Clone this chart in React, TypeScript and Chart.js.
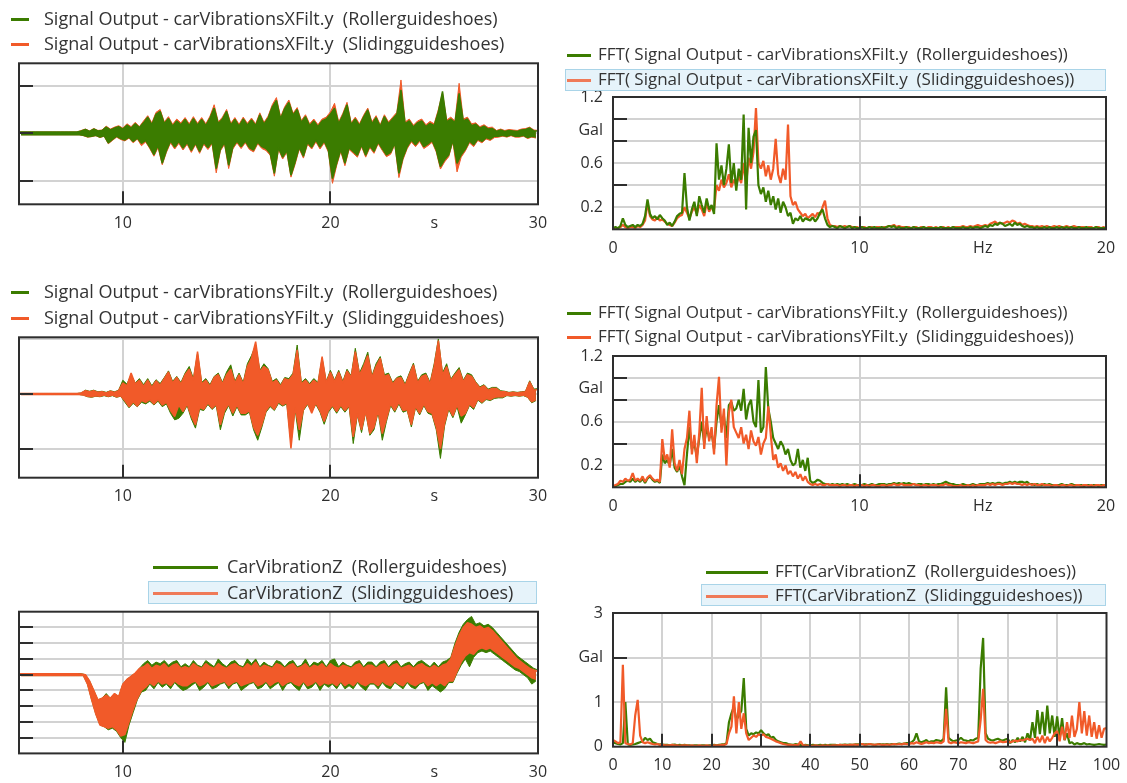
import { useEffect, useRef } from "react";
import { Chart, registerables } from "chart.js";

Chart.register(...registerables);

const PAGE_W = 1127;
const PAGE_H = 783;

const GREEN = "#3b7c00";
const ORANGE = "#f15a29";
const ORANGE_SELECTED = "#ef7a58";
const GRID = "#d2d2d2";
const INK = "#2e2e2e";
const FONT = "'Open Sans', 'Noto Sans', sans-serif";

// Sampling of the acceleration signals (seconds) and of the spectra (Hz)
const TIME_START = 5;
const TIME_STEP = 0.1;
const FFT_XY_STEP = 0.1;
const FFT_Z_STEP = 0.5;

// Axis labels
const timeTickValues = [10, 20, 25, 30];
const timeTickLabels = ["10", "20", "s", "30"];
const fftXYTickValues = [0, 10, 15, 20];
const fftXYTickLabels = ["0", "10", "Hz", "20"];
const fftXYGalValues = [1.2, 0.9, 0.6, 0.2];
const fftXYGalLabels = ["1.2", "Gal", "0.6", "0.2"];
const fftZTickValues = [0, 10, 20, 30, 40, 50, 60, 70, 80, 90, 100];
const fftZTickLabels = ["0", "10", "20", "30", "40", "50", "60", "70", "80", "Hz", "100"];
const fftZGalValues = [3, 2, 1, 0];
const fftZGalLabels = ["3", "Gal", "1", "0"];

// Legend texts
const xRollerName = "Signal Output - carVibrationsXFilt.y  (Rollerguideshoes)";
const xSlidingName = "Signal Output - carVibrationsXFilt.y  (Slidingguideshoes)";
const yRollerName = "Signal Output - carVibrationsYFilt.y  (Rollerguideshoes)";
const ySlidingName = "Signal Output - carVibrationsYFilt.y  (Slidingguideshoes)";
const zRollerName = "CarVibrationZ  (Rollerguideshoes)";
const zSlidingName = "CarVibrationZ  (Slidingguideshoes)";

// carVibrationsXFilt.y: swing extremes every 0.1 s from 5 s to 30 s
// (even samples are upper peaks, odd samples are lower peaks)
const carXRoller = [
  0.3,-0.3,0.3,-0.3,0.3,-0.3,0.3,-0.3,0.3,-0.3,
  0.3,-0.3,0.3,-0.3,0.3,-0.3,0.3,-0.3,0.3,-0.3,
  0.3,-0.3,0.3,-0.3,0.3,-0.3,0.3,-0.3,0.3,-0.3,
  0.5,-0.4,0.8,-0.7,0.4,-0.6,0.9,-0.4,0.5,-0.8,
  0.6,-0.5,1.3,-2.0,0.7,-1.3,1.1,-0.6,1.4,-1.1,
  0.9,-1.4,1.7,-0.8,1.1,-1.7,2.0,-1.0,1.2,-2.1,
  2.2,-1.5,3.4,-2.9,1.8,-4.5,4.0,-2.5,4.6,-6.3,
  2.0,-3.6,3.1,-1.6,1.5,-2.9,2.6,-1.7,1.8,-3.1,
  2.9,-1.9,1.6,-3.6,3.1,-2.0,1.7,-3.8,2.9,-1.9,
  1.6,-3.0,3.2,-1.8,5.3,-7.4,2.0,-3.3,3.0,-1.9,
  4.6,-6.7,1.7,-2.9,2.9,-1.6,1.5,-2.8,3.0,-1.6,
  1.7,-3.0,2.8,-3.5,1.6,-1.8,3.9,-2.8,1.9,-3.2,
  3.2,-4.2,5.5,-8.4,6.9,-3.0,3.0,-5.0,5.2,-3.6,
  6.5,-8.8,3.8,-6.0,5.0,-2.9,2.3,-4.8,3.5,-1.9,
  1.6,-2.9,2.6,-1.4,1.4,-2.9,2.6,-1.6,3.0,-3.5,
  4.0,-9.5,5.3,-6.3,2.0,-3.4,3.8,-6.3,6.0,-3.0,
  1.8,-3.8,3.0,-4.6,1.6,-2.4,3.4,-4.6,4.9,-2.6,
  2.0,-3.8,3.3,-1.8,1.4,-3.2,3.5,-4.5,2.0,-4.0,
  3.0,-2.0,4.0,-8.4,9.1,-5.0,2.0,-2.8,2.6,-1.4,
  1.3,-2.4,2.2,-1.3,2.6,-2.8,1.4,-2.2,2.1,-1.5,
  1.6,-3.5,4.5,-7.0,8.8,-5.5,2.4,-4.5,3.0,-1.4,
  2.2,-6.3,8.4,-4.5,2.6,-3.3,3.0,-1.6,1.6,-2.4,
  1.9,-1.2,1.1,-1.7,1.5,-0.9,0.9,-1.2,1.0,-0.6,
  0.4,-0.6,0.7,-0.4,0.4,-0.6,0.6,-0.3,0.5,-0.6,
  0.4,-0.6,0.7,-0.4,0.8,-0.9,1.1,-0.6,0.5,-0.8,
  0.5,
];
const carXSliding = [
  0.3,-0.3,0.3,-0.3,0.3,-0.3,0.3,-0.3,0.3,-0.3,
  0.3,-0.3,0.3,-0.3,0.3,-0.3,0.3,-0.3,0.3,-0.3,
  0.3,-0.3,0.3,-0.3,0.3,-0.3,0.3,-0.3,0.3,-0.3,
  0.6,-0.5,0.9,-0.8,0.5,-0.7,1.0,-0.5,0.6,-0.9,
  0.7,-0.6,1.5,-2.2,0.9,-1.5,1.3,-0.8,1.6,-1.3,
  1.1,-1.6,2.0,-1.0,1.4,-2.0,2.3,-1.2,1.4,-2.6,
  2.6,-1.8,3.7,-3.2,2.2,-4.8,4.4,-3.0,5.0,-6.6,
  2.4,-4.0,3.5,-2.0,1.9,-3.3,3.0,-2.1,2.2,-3.5,
  3.3,-2.3,2.0,-4.0,3.5,-2.4,2.1,-4.2,3.3,-2.3,
  2.0,-3.4,3.6,-2.2,6.0,-8.3,2.4,-3.7,3.4,-2.3,
  5.0,-7.4,2.1,-3.3,3.3,-2.0,1.9,-3.2,3.4,-2.0,
  2.1,-3.4,3.2,-3.9,2.0,-2.2,4.3,-3.2,2.3,-3.6,
  3.6,-4.6,6.0,-9.0,7.5,-3.4,3.4,-5.4,5.6,-4.0,
  7.0,-9.2,4.2,-6.5,5.4,-3.3,2.7,-5.2,3.9,-2.3,
  2.0,-3.3,3.0,-1.8,1.8,-3.3,3.0,-2.0,3.4,-3.9,
  4.5,-10.5,6.3,-6.8,2.4,-3.8,4.2,-6.8,6.5,-3.4,
  2.2,-4.2,3.4,-5.0,2.0,-2.8,3.8,-5.0,5.3,-3.0,
  2.4,-4.2,3.7,-2.2,1.8,-3.6,3.9,-4.9,2.4,-4.4,
  3.4,-2.4,4.4,-9.3,11.2,-5.5,2.4,-3.2,3.0,-1.8,
  1.7,-2.8,2.6,-1.7,3.0,-3.2,1.8,-2.6,2.5,-1.9,
  2.0,-3.9,5.0,-7.5,8.5,-6.0,2.8,-4.9,3.4,-1.8,
  2.6,-8.1,10.5,-5.0,3.0,-3.7,3.4,-2.0,2.0,-2.8,
  2.2,-1.5,1.4,-2.0,1.8,-1.2,1.2,-1.5,1.3,-0.9,
  0.6,-0.8,0.9,-0.6,0.6,-0.8,0.8,-0.5,0.7,-0.8,
  0.6,-0.8,0.9,-0.6,1.0,-1.1,1.3,-0.8,0.7,-1.0,
  0.6,
];

// carVibrationsYFilt.y
const carYRoller = [
  0.1,-0.1,0.1,-0.1,0.1,-0.1,0.1,-0.1,0.1,-0.1,
  0.1,-0.1,0.1,-0.1,0.1,-0.1,0.1,-0.1,0.1,-0.1,
  0.1,-0.1,0.1,-0.1,0.1,-0.1,0.1,-0.1,0.1,-0.1,
  0.2,-0.2,0.7,-0.5,0.5,-0.6,0.7,-0.4,0.4,-0.5,
  0.5,-0.3,0.3,-0.5,0.6,-0.3,0.4,-0.6,0.7,-0.4,
  2.5,-1.5,1.8,-2.5,3.5,-1.7,2.0,-2.3,2.8,-1.5,
  1.7,-1.8,2.8,-1.3,1.5,-2.0,2.6,-1.3,1.9,-2.3,
  3.0,-1.8,4.2,-3.5,2.3,-4.7,3.2,-4.4,2.1,-3.5,
  3.8,-2.1,5.0,-4.5,2.8,-6.2,7.4,-2.8,2.1,-3.0,
  2.8,-1.9,1.7,-2.8,3.2,-2.1,3.8,-6.5,2.1,-3.5,
  4.0,-2.1,5.3,-4.0,2.3,-2.3,3.8,-3.8,2.1,-3.8,
  5.5,-3.3,7.0,-6.5,8.9,-8.4,4.3,-6.0,5.5,-3.3,
  4.6,-2.3,2.3,-3.0,2.8,-1.7,1.7,-2.2,3.0,-1.8,
  2.8,-8.9,3.8,-2.7,8.9,-8.4,2.1,-3.0,2.8,-1.9,
  1.9,-3.2,2.8,-1.9,2.1,-3.3,6.5,-5.5,2.3,-3.3,
  4.3,-2.3,2.5,-3.5,4.3,-2.3,2.3,-3.3,4.5,-2.3,
  3.3,-9.0,8.3,-3.8,3.8,-7.0,5.5,-3.3,7.6,-7.5,
  3.3,-6.5,5.5,-3.3,6.8,-8.4,3.5,-5.0,3.8,-2.1,
  2.1,-3.3,3.0,-1.8,3.3,-3.3,1.8,-3.0,3.8,-6.0,
  5.6,-2.5,2.3,-3.8,3.5,-2.1,3.8,-3.5,2.1,-3.8,
  5.5,-6.5,10.0,-11.7,3.8,-5.8,5.5,-2.8,2.7,-4.3,
  3.8,-2.3,4.8,-5.3,2.5,-3.8,3.8,-2.1,3.5,-2.8,
  2.2,-1.1,1.3,-1.7,1.7,-1.0,0.9,-1.2,1.2,-0.8,
  1.2,-0.7,0.6,-0.7,0.5,-0.3,0.3,-0.4,0.4,-0.3,
  0.3,-0.4,0.4,-0.3,0.5,-0.6,2.4,-1.6,0.9,-1.2,
  1.0,
];
const carYSliding = [
  0.1,-0.1,0.1,-0.1,0.1,-0.1,0.1,-0.1,0.1,-0.1,
  0.1,-0.1,0.1,-0.1,0.1,-0.1,0.1,-0.1,0.1,-0.1,
  0.1,-0.1,0.1,-0.1,0.1,-0.1,0.1,-0.1,0.1,-0.1,
  0.2,-0.2,0.6,-0.4,0.4,-0.5,0.6,-0.3,0.3,-0.4,
  0.4,-0.2,0.2,-0.4,0.5,-0.2,0.3,-0.5,0.6,-0.3,
  2.0,-1.2,1.5,-2.3,3.8,-1.4,1.8,-2.2,2.5,-1.2,
  1.4,-1.5,2.5,-1.0,1.2,-1.8,2.4,-1.0,1.6,-2.0,
  2.8,-1.5,4.0,-3.0,2.0,-4.1,3.0,-2.0,1.8,-3.2,
  3.5,-1.8,4.5,-4.0,2.5,-5.6,7.7,-2.4,1.8,-2.8,
  2.5,-1.6,1.4,-2.6,3.0,-1.8,3.5,-5.6,1.8,-3.0,
  3.5,-1.8,4.5,-3.5,2.0,-2.0,3.5,-3.5,1.8,-3.5,
  5.0,-3.0,6.5,-6.0,9.5,-7.5,4.0,-5.5,5.0,-3.0,
  4.4,-2.0,2.0,-2.8,2.5,-1.4,1.4,-2.0,2.8,-1.5,
  2.5,-9.9,3.5,-2.4,8.0,-6.5,1.8,-2.8,2.5,-1.6,
  1.6,-3.5,2.5,-1.6,1.8,-3.0,6.8,-5.0,2.0,-3.0,
  4.0,-2.0,2.2,-3.2,4.0,-2.0,2.0,-3.0,4.2,-2.0,
  3.0,-7.8,7.7,-3.5,3.5,-6.5,5.0,-3.0,7.0,-7.2,
  3.0,-6.0,5.0,-3.0,6.5,-7.2,3.2,-4.5,3.5,-1.8,
  1.8,-3.0,2.8,-1.5,3.0,-3.0,1.5,-2.8,3.5,-5.6,
  5.3,-2.2,2.0,-3.5,3.2,-1.8,3.5,-3.2,1.8,-3.5,
  5.0,-6.0,9.7,-9.9,3.5,-5.3,5.0,-2.5,2.4,-4.0,
  3.5,-2.0,4.4,-4.0,2.2,-3.5,3.5,-1.8,3.2,-2.5,
  2.0,-0.9,1.1,-1.5,1.5,-0.8,0.7,-1.0,1.0,-0.6,
  1.0,-0.5,0.4,-0.5,0.4,-0.2,0.2,-0.3,0.3,-0.2,
  0.2,-0.3,0.3,-0.2,0.4,-0.5,2.2,-1.4,0.7,-1.0,
  0.8,
];

// CarVibrationZ
const carZRoller = [
  0.6,-0.6,0.6,-0.6,0.6,-0.6,0.6,-0.6,0.6,-0.6,
  0.6,-0.6,0.6,-0.6,0.6,-0.6,0.6,-0.6,0.6,-0.6,
  0.6,-0.6,0.6,-0.6,0.6,-0.6,0.6,-0.6,0.6,-0.6,
  0.6,-0.6,0,-6,-4,-16,-10,-25,-16,-32,
  -15,-33,-12,-35,-15,-34,-12,-36,-14,-40,
  -6,-43,-3,-32,-1,-24,1,-16,4,-11,
  7,-10,9,-6,6,-9,8,-5,7,-8,
  9,-6,6,-9,8,-5,9,-8,5,-10,
  7,-9,5,-7,9,-5,6,-10,5,-8,
  9,-5,7,-9,5,-8,10,-6,7,-5,
  5,-9,8,-6,9,-5,6,-10,5,-8,
  10,-6,7,-5,10,-9,5,-8,8,-5,
  6,-9,5,-7,9,-5,8,-10,5,-6,
  8,-5,9,-8,5,-10,6,-5,10,-9,
  5,-8,8,-5,7,-10,9,-6,5,-8,
  9,-6,10,-9,5,-5,8,-9,6,-7,
  5,-9,8,-5,9,-8,5,-10,8,-6,
  8,-6,5,-9,8,-5,9,-8,5,-9,
  8,-5,9,-7,5,-9,7,-5,8,-8,
  5,-9,8,-6,9,-5,7,-10,5,-7,
  8,-9,5,-11,8,-9,9,-5,11,-5,
  20,1,27,6,32,10,35,5,37,11,
  32,14,33,15,31,14,32,15,30,13,
  27,11,24,9,21,7,18,5,15,3,
  12,2,10,0,8,-2,6,-6,4,-4,
  3,
];
const carZSliding = [
  0.6,-0.6,0.6,-0.6,0.6,-0.6,0.6,-0.6,0.6,-0.6,
  0.6,-0.6,0.6,-0.6,0.6,-0.6,0.6,-0.6,0.6,-0.6,
  0.6,-0.6,0.6,-0.6,0.6,-0.6,0.6,-0.6,0.6,-0.6,
  0.5,-0.5,0,-6,-4,-16,-10,-25,-16,-32,
  -15,-33,-13,-34,-15,-33,-12,-35,-14,-39,
  -6,-38,-3,-30,-1,-22,1,-15,4,-10,
  5,-8,7,-5,4,-7,6,-4,5,-6,
  7,-5,4,-7,6,-4,7,-6,4,-7,
  5,-7,4,-5,7,-4,5,-7,4,-6,
  7,-4,5,-7,4,-6,7,-5,5,-4,
  4,-7,6,-5,7,-4,5,-7,4,-6,
  7,-5,5,-4,8,-7,4,-6,6,-4,
  5,-7,4,-5,7,-4,6,-7,4,-5,
  6,-4,7,-6,4,-7,5,-4,7,-7,
  4,-6,6,-4,5,-7,7,-5,4,-6,
  7,-5,5,-7,4,-4,6,-7,5,-5,
  4,-7,6,-4,7,-6,4,-7,6,-5,
  6,-5,4,-7,6,-4,7,-6,4,-7,
  6,-4,7,-6,4,-7,5,-4,6,-6,
  4,-7,6,-5,7,-4,5,-7,4,-5,
  6,-7,4,-5,6,-7,7,-4,10,-4,
  18,2,25,8,30,12,33,14,32,13,
  30,16,31,17,29,16,30,17,28,15,
  25,13,22,11,19,9,16,7,13,5,
  10,4,8,2,6,0,4,-2,3,-3,
  2,
];

// FFT of the X signal, hundredths of Gal every 0.1 Hz from 0 to 20 Hz
const fftXRoller = [
  1,2,1,3,10,4,2,3,4,2,
  4,3,5,12,27,14,10,12,9,13,
  10,8,4,6,3,7,12,14,15,51,
  20,8,18,25,12,30,22,15,28,18,
  22,14,78,45,58,40,55,77,42,60,
  35,55,45,104,18,92,60,84,90,40,
  32,38,25,35,22,30,18,28,15,25,
  20,12,15,5,10,8,12,7,10,9,
  8,11,7,10,15,18,10,4,2,3,
  2,1,3,2,1,2,3,1,2,1,
  1,2,1,1,2,1,2,1,1,2,
  1,2,3,2,3,1,2,1,1,2,
  1,1,2,1,1,1,2,1,1,1,
  1,1,1,2,1,1,1,1,2,1,
  1,1,2,1,1,2,1,2,2,1,
  2,3,2,4,3,5,4,6,5,3,
  4,5,3,6,4,5,3,2,3,2,
  2,1,2,1,1,2,1,2,1,1,
  2,1,2,1,2,1,2,1,1,2,
  1,1,2,1,1,1,2,1,1,1,
  1,
];
const fftXSliding = [
  1,1,1,2,4,2,1,2,2,1,
  3,2,4,8,24,12,9,8,11,8,
  9,7,5,4,3,6,10,12,13,20,
  15,10,16,20,14,22,18,12,24,16,
  20,18,40,35,45,38,42,50,38,45,
  40,48,42,60,40,65,55,70,110,60,
  55,62,48,58,45,55,82,50,42,55,
  45,95,30,22,25,18,15,12,14,10,
  12,14,11,15,13,20,26,10,4,3,
  3,2,3,2,3,2,3,2,2,2,
  1,2,2,1,2,2,1,2,2,1,
  2,2,3,3,4,2,3,2,2,2,
  2,1,2,2,1,2,2,1,2,2,
  1,2,1,2,2,1,2,1,2,2,
  2,2,3,2,2,3,2,3,4,3,
  3,4,3,5,6,7,5,6,5,6,
  7,6,8,7,5,6,4,5,4,3,
  3,2,3,2,3,2,3,2,2,3,
  2,3,2,2,3,2,2,3,2,2,
  2,2,1,2,2,1,2,2,1,2,
  1,
];

// FFT of the Y signal
const fftYRoller = [
  1,1,2,3,3,5,6,5,8,5,
  7,5,8,4,8,10,7,5,6,4,
  30,22,25,20,35,18,14,20,10,2,
  30,55,35,40,28,45,60,40,55,45,
  50,35,60,75,55,65,45,75,78,70,
  72,80,70,90,62,75,80,60,55,98,
  50,55,110,72,60,45,40,35,42,38,
  30,35,25,20,22,35,18,25,15,27,
  6,4,5,7,6,4,3,3,2,3,
  2,3,2,3,2,3,2,2,3,2,
  2,2,3,2,2,3,2,2,3,3,
  3,2,3,3,4,3,4,3,4,3,
  4,3,3,2,3,3,2,3,3,2,
  3,2,3,3,4,5,4,3,3,2,
  2,2,3,2,2,2,3,2,2,3,
  3,3,4,3,4,3,4,4,3,4,
  4,5,4,5,4,5,5,4,5,3,
  3,2,3,2,2,3,2,3,2,2,
  2,2,3,2,2,2,3,2,2,2,
  2,1,2,2,1,2,2,1,2,2,
  1,
];
const fftYSliding = [
  1,2,3,6,5,8,6,7,13,6,
  8,6,10,5,9,11,8,6,7,5,
  44,25,30,18,53,22,15,25,12,35,
  45,70,30,48,22,50,91,35,65,42,
  55,30,75,101,50,72,20,68,80,55,
  50,45,55,40,48,35,52,42,38,46,
  30,40,45,74,48,25,30,18,22,15,
  20,12,15,10,14,8,12,6,10,5,
  3,2,3,2,3,2,2,3,2,2,
  2,2,1,2,2,1,2,2,1,2,
  1,2,1,2,1,2,2,1,1,2,
  2,1,2,2,3,2,2,3,2,2,
  2,2,3,2,2,1,2,2,1,2,
  2,2,1,2,2,3,2,2,1,1,
  1,2,1,1,2,1,2,1,2,2,
  2,2,3,2,3,2,3,3,2,3,
  3,4,3,4,3,3,2,3,2,3,
  2,3,2,2,3,2,2,2,1,2,
  2,1,2,2,1,2,2,1,2,2,
  1,2,2,1,2,1,2,2,1,2,
  1,
];

// FFT of CarVibrationZ, hundredths of Gal every 0.5 Hz from 0 to 100 Hz
const fftZRoller = [
  10,8,6,5,8,100,5,4,5,6,
  8,10,12,20,15,18,10,8,6,5,
  5,4,4,3,4,5,3,4,3,4,
  3,3,2,3,3,2,3,3,2,3,
  3,4,3,4,5,5,8,55,75,90,
  60,70,80,154,40,25,30,28,32,30,
  37,30,25,28,20,22,15,12,10,8,
  8,6,5,4,6,5,4,3,4,3,
  3,4,3,3,4,3,4,3,4,4,
  4,3,4,4,5,4,5,4,5,5,
  5,6,5,5,6,5,4,5,6,5,
  5,6,5,6,5,6,7,6,7,8,
  8,10,15,30,12,10,12,15,10,12,
  12,15,14,12,18,133,20,15,12,14,
  15,20,15,14,12,15,14,18,20,175,
  244,30,18,15,14,16,18,15,14,16,
  18,8,15,10,20,12,22,10,30,15,
  55,20,82,28,78,25,92,30,70,22,
  68,20,64,15,30,8,10,5,8,6,
  6,8,5,6,5,4,5,6,5,4,
  5,
];
const fftZSliding = [
  15,12,8,10,184,8,6,5,8,70,
  105,25,10,8,10,8,6,5,6,4,
  4,3,3,3,4,3,3,2,3,3,
  3,2,3,2,2,3,2,2,3,2,
  2,3,3,3,4,4,6,30,45,113,
  30,100,40,75,30,15,20,25,22,28,
  25,28,22,20,18,15,12,10,8,6,
  5,4,4,3,4,3,12,3,3,2,
  2,2,3,2,2,3,2,3,2,3,
  3,3,4,3,4,3,4,4,5,4,
  5,6,4,5,6,5,4,5,5,4,
  4,5,4,5,6,5,6,5,7,6,
  6,8,7,10,8,6,8,10,8,9,
  8,10,9,8,12,85,10,8,10,9,
  8,10,9,8,10,9,8,10,12,60,
  130,15,10,9,10,8,10,12,10,11,
  12,10,12,14,12,15,14,16,18,15,
  18,8,22,10,25,8,22,12,20,30,
  35,12,45,15,55,20,70,22,40,100,
  30,80,25,70,22,55,18,48,20,40,
  42,
];

type Trace = { values: number[]; color: string; onTop: boolean };
type Panel = {
  area: [number, number, number, number];
  xRange: [number, number];
  yRange: [number, number];
  start: number;
  step: number;
  unit: number;
  band: boolean;
  xGrid: number[];
  yGrid: number[];
  xMarks: number[];
  yMarks: number[];
  xLabelValues: number[];
  xLabelTexts: string[];
  yLabelValues: number[];
  yLabelTexts: string[];
  traces: Trace[];
};

const panels: Panel[] = [
  {
    area: [19, 63.3, 538, 204.3],
    xRange: [5, 30], yRange: [-14.9, 14.7],
    start: TIME_START, step: TIME_STEP, unit: 1, band: true,
    xGrid: [10, 20], yGrid: [-10, 0, 10], xMarks: [10, 20], yMarks: [-10, 0, 10],
    xLabelValues: timeTickValues, xLabelTexts: timeTickLabels, yLabelValues: [], yLabelTexts: [],
    traces: [
      { values: carXSliding, color: ORANGE, onTop: false },
      { values: carXRoller, color: GREEN, onTop: true },
    ],
  },
  {
    area: [613, 97, 1106, 229.3],
    xRange: [0, 20], yRange: [0, 1.2],
    start: 0, step: FFT_XY_STEP, unit: 0.01, band: false,
    xGrid: [10], yGrid: [0.2, 0.4, 0.6, 0.8, 1.0], xMarks: [10], yMarks: [1.0, 0.8, 0.4],
    xLabelValues: fftXYTickValues, xLabelTexts: fftXYTickLabels, yLabelValues: fftXYGalValues, yLabelTexts: fftXYGalLabels,
    traces: [
      { values: fftXSliding, color: ORANGE, onTop: false },
      { values: fftXRoller, color: GREEN, onTop: true },
    ],
  },
  {
    area: [19, 337.3, 538, 477.7],
    xRange: [5, 30], yRange: [-15.2, 10.3],
    start: TIME_START, step: TIME_STEP, unit: 1, band: true,
    xGrid: [10, 20], yGrid: [-10, 0, 10], xMarks: [10, 20], yMarks: [-10, 0],
    xLabelValues: timeTickValues, xLabelTexts: timeTickLabels, yLabelValues: [], yLabelTexts: [],
    traces: [
      { values: carYRoller, color: GREEN, onTop: false },
      { values: carYSliding, color: ORANGE, onTop: true },
    ],
  },
  {
    area: [613, 356, 1106, 487.3],
    xRange: [0, 20], yRange: [0, 1.2],
    start: 0, step: FFT_XY_STEP, unit: 0.01, band: false,
    xGrid: [10], yGrid: [0.2, 0.4, 0.6, 0.8, 1.0], xMarks: [10], yMarks: [1.0, 0.8, 0.4],
    xLabelValues: fftXYTickValues, xLabelTexts: fftXYTickLabels, yLabelValues: fftXYGalValues, yLabelTexts: fftXYGalLabels,
    traces: [
      { values: fftYRoller, color: GREEN, onTop: false },
      { values: fftYSliding, color: ORANGE, onTop: true },
    ],
  },
  {
    area: [19, 611.7, 538, 753.4],
    xRange: [5, 30], yRange: [-50, 40],
    start: TIME_START, step: TIME_STEP, unit: 1, band: true,
    xGrid: [10, 20], yGrid: [-40, -30, -20, -10, 0, 10, 20, 30], xMarks: [10, 20],
    yMarks: [-40, -30, -20, -10, 0, 10, 20, 30],
    xLabelValues: timeTickValues, xLabelTexts: timeTickLabels, yLabelValues: [], yLabelTexts: [],
    traces: [
      { values: carZRoller, color: GREEN, onTop: false },
      { values: carZSliding, color: ORANGE, onTop: true },
    ],
  },
  {
    area: [613, 613, 1106.5, 746.7],
    xRange: [0, 100], yRange: [0, 3],
    start: 0, step: FFT_Z_STEP, unit: 0.01, band: false,
    xGrid: [10, 20, 30, 40, 50, 60, 70, 80, 90], yGrid: [1, 2],
    xMarks: [10, 20, 30, 40, 50, 60, 70, 80, 90], yMarks: [2],
    xLabelValues: fftZTickValues, xLabelTexts: fftZTickLabels, yLabelValues: fftZGalValues, yLabelTexts: fftZGalLabels,
    traces: [
      { values: fftZRoller, color: GREEN, onTop: false },
      { values: fftZSliding, color: ORANGE, onTop: true },
    ],
  },
];

type LegendRow = { y: number; color: string; text: string };
type LegendBlock = {
  line: [number, number];
  textX: number;
  fontSize: number;
  rows: LegendRow[];
  selectedBox?: [number, number, number, number];
};

const legends: LegendBlock[] = [
  {
    line: [11, 29], textX: 44, fontSize: 18,
    rows: [{ y: 19, color: GREEN, text: xRollerName }, { y: 44, color: ORANGE, text: xSlidingName }],
  },
  {
    line: [567, 591], textX: 598, fontSize: 17,
    rows: [{ y: 55, color: GREEN, text: `FFT( ${xRollerName})` }, { y: 80, color: ORANGE_SELECTED, text: `FFT( ${xSlidingName})` }],
    selectedBox: [565, 69, 1106, 91],
  },
  {
    line: [11, 29], textX: 44, fontSize: 18,
    rows: [{ y: 292, color: GREEN, text: yRollerName }, { y: 318, color: ORANGE, text: ySlidingName }],
  },
  {
    line: [567, 591], textX: 598, fontSize: 17,
    rows: [{ y: 313, color: GREEN, text: `FFT( ${yRollerName})` }, { y: 337, color: ORANGE, text: `FFT( ${ySlidingName})` }],
  },
  {
    line: [153, 218], textX: 227, fontSize: 18,
    rows: [{ y: 567, color: GREEN, text: zRollerName }, { y: 593, color: ORANGE_SELECTED, text: zSlidingName }],
    selectedBox: [148, 581, 537, 604],
  },
  {
    line: [706, 768], textX: 775, fontSize: 17,
    rows: [{ y: 572, color: GREEN, text: `FFT(${zRollerName})` }, { y: 596, color: ORANGE_SELECTED, text: `FFT(${zSlidingName})` }],
    selectedBox: [701, 584, 1106, 606],
  },
];

function framePlugin(p: Panel) {
  return {
    id: "panelFrame",
    beforeDatasetsDraw(chart: any) {
      const { ctx, chartArea: a } = chart;
      const xs = chart.scales.x;
      const ys = chart.scales.y;
      ctx.save();
      ctx.strokeStyle = GRID;
      ctx.lineWidth = 2;
      ctx.beginPath();
      for (const v of p.xGrid) {
        const px = Math.round(xs.getPixelForValue(v));
        ctx.moveTo(px, a.top);
        ctx.lineTo(px, a.bottom);
      }
      for (const v of p.yGrid) {
        const py = Math.round(ys.getPixelForValue(v));
        ctx.moveTo(a.left, py);
        ctx.lineTo(a.right, py);
      }
      ctx.stroke();
      ctx.restore();
    },
    afterDatasetsDraw(chart: any) {
      const { ctx, chartArea: a } = chart;
      const xs = chart.scales.x;
      const ys = chart.scales.y;
      ctx.save();
      ctx.strokeStyle = INK;
      ctx.lineWidth = 2;
      ctx.beginPath();
      for (const v of p.xMarks) {
        const px = Math.round(xs.getPixelForValue(v));
        ctx.moveTo(px, a.bottom);
        ctx.lineTo(px, a.bottom - 13);
      }
      for (const v of p.yMarks) {
        const py = Math.round(ys.getPixelForValue(v));
        ctx.moveTo(a.left, py);
        ctx.lineTo(a.left + 14, py);
      }
      ctx.stroke();
      ctx.strokeRect(a.left, a.top, a.right - a.left, a.bottom - a.top);

      ctx.fillStyle = INK;
      ctx.font = `16px ${FONT}`;
      ctx.textBaseline = "middle";
      ctx.textAlign = "center";
      p.xLabelValues.forEach((v, i) => {
        ctx.fillText(p.xLabelTexts[i], xs.getPixelForValue(v), a.bottom + 19);
      });
      ctx.textAlign = "right";
      p.yLabelValues.forEach((v, i) => {
        ctx.fillText(p.yLabelTexts[i], a.left - 10, ys.getPixelForValue(v));
      });
      ctx.restore();
    },
  };
}

// A dense oscillation is drawn as the band between its upper and lower swing peaks.
function buildDatasets(panel: Panel) {
  const sets: any[] = [];
  for (const tr of panel.traces) {
    const order = tr.onTop ? 0 : 1;
    const pts = tr.values.map((v, i) => ({ x: panel.start + i * panel.step, y: v * panel.unit }));
    const common = {
      borderColor: tr.color,
      backgroundColor: tr.color,
      pointRadius: 0,
      tension: 0,
      borderJoinStyle: "bevel",
      order,
    };
    if (panel.band) {
      const w = tr.onTop ? 1.5 : 1;
      sets.push({ ...common, data: pts.filter((_, i) => i % 2 === 0), borderWidth: w, fill: false });
      sets.push({ ...common, data: pts.filter((_, i) => i % 2 === 1), borderWidth: w, fill: "-1" });
    } else {
      sets.push({ ...common, data: pts, borderWidth: 2.2, fill: false });
    }
  }
  return sets;
}

function PanelChart({ panel }: { panel: Panel }) {
  const ref = useRef<HTMLCanvasElement | null>(null);
  useEffect(() => {
    if (!ref.current) return;
    const [l, t, r, b] = panel.area;
    const chart = new Chart(ref.current, {
      type: "line",
      data: { datasets: buildDatasets(panel) },
      options: {
        responsive: false,
        animation: false,
        devicePixelRatio: 1,
        events: [],
        parsing: false,
        normalized: true,
        layout: { padding: { left: l, top: t, right: PAGE_W - r, bottom: PAGE_H - b } },
        plugins: { legend: { display: false }, tooltip: { enabled: false } },
        scales: {
          x: { type: "linear", display: false, min: panel.xRange[0], max: panel.xRange[1] },
          y: { type: "linear", display: false, min: panel.yRange[0], max: panel.yRange[1] },
        },
      },
      plugins: [framePlugin(panel)],
    } as any);
    return () => chart.destroy();
  }, [panel]);
  return (
    <canvas
      ref={ref}
      width={PAGE_W}
      height={PAGE_H}
      style={{ position: "absolute", left: 0, top: 0, width: PAGE_W, height: PAGE_H }}
    />
  );
}

function Legend({ block }: { block: LegendBlock }) {
  return (
    <>
      {block.selectedBox && (
        <div
          style={{
            position: "absolute",
            left: block.selectedBox[0],
            top: block.selectedBox[1],
            width: block.selectedBox[2] - block.selectedBox[0],
            height: block.selectedBox[3] - block.selectedBox[1],
            boxSizing: "border-box",
            background: "#e6f3fa",
            border: "1px solid #a9d4e8",
          }}
        />
      )}
      {block.rows.map((row, i) => (
        <div key={i}>
          <div
            style={{
              position: "absolute",
              left: block.line[0],
              top: row.y - 1.5,
              width: block.line[1] - block.line[0],
              height: 3,
              background: row.color,
            }}
          />
          <div
            style={{
              position: "absolute",
              left: block.textX,
              top: row.y - 13,
              height: 26,
              lineHeight: "26px",
              font: `${block.fontSize}px ${FONT}`,
              color: "#333",
              whiteSpace: "pre",
            }}
          >
            {row.text}
          </div>
        </div>
      ))}
    </>
  );
}

export default function App() {
  return (
    <div
      style={{
        position: "absolute",
        left: 0,
        top: 0,
        width: PAGE_W,
        height: PAGE_H,
        background: "#fff",
        overflow: "hidden",
      }}
    >
      {panels.map((p, i) => (
        <PanelChart key={i} panel={p} />
      ))}
      {legends.map((b, i) => (
        <Legend key={i} block={b} />
      ))}
    </div>
  );
}
